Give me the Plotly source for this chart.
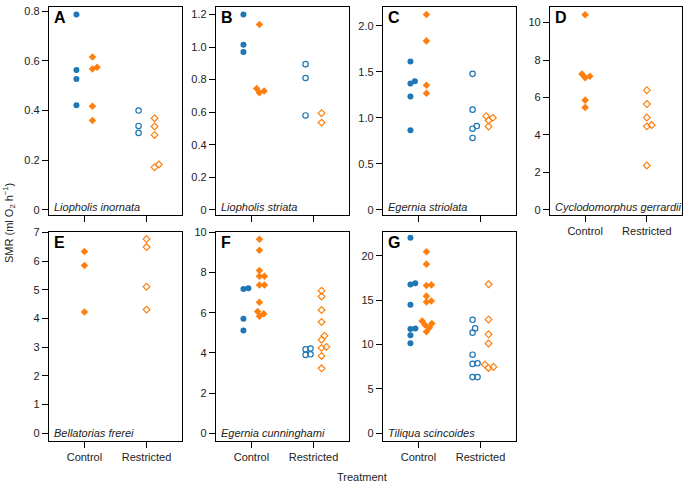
import math
import plotly.graph_objects as go

# ---------------- data (SMR, ml O2 h-1) ----------------
treatments = ["Control", "Restricted"]

A_blue_control = [0.787, 0.563, 0.527, 0.421]
A_orange_control = [0.616, 0.574, 0.567, 0.417, 0.360]
A_blue_restricted = [0.400, 0.338, 0.310]
A_orange_restricted = [0.369, 0.336, 0.302, 0.183, 0.172]

B_blue_control = [1.200, 1.014, 0.970]
B_orange_control = [1.139, 0.745, 0.730, 0.720]
B_blue_restricted = [0.895, 0.810, 0.580]
B_orange_restricted = [0.594, 0.536]

C_blue_control = [1.611, 1.397, 1.372, 1.232, 0.865]
C_orange_control = [2.122, 1.836, 1.354, 1.268]
C_blue_restricted = [1.478, 1.089, 0.911, 0.882, 0.782]
C_orange_restricted = [1.018, 1.000, 0.971, 0.907]

D_orange_control = [10.42, 7.25, 7.14, 7.05, 5.86, 5.47]
D_orange_restricted = [6.39, 5.65, 4.93, 4.53, 4.46, 2.37]

E_orange_control = [6.34, 5.85, 4.23]
E_orange_restricted = [6.77, 6.49, 5.11, 4.31]

F_blue_control = [7.22, 7.19, 5.70, 5.12]
F_orange_control = [9.66, 9.12, 8.11, 7.82, 7.82, 7.38, 7.38, 6.52, 6.06, 5.95, 5.83]
F_blue_restricted = [4.22, 4.18, 3.93, 3.90]
F_orange_restricted = [7.10, 6.81, 6.14, 5.54, 4.86, 4.66, 4.30, 4.25, 3.85, 3.23]

G_blue_control = [22.04, 16.91, 16.77, 14.50, 11.82, 11.75, 11.04, 10.15]
G_orange_control = [20.48, 19.07, 16.73, 16.65, 15.46, 14.91, 14.80, 12.64, 12.38, 12.19, 11.90, 11.45]
G_blue_restricted = [12.79, 11.82, 11.34, 8.85, 7.88, 7.81, 6.32, 6.32]
G_orange_restricted = [16.80, 12.83, 11.15, 10.11, 7.73, 7.47, 7.36]

panel_letters = ["A", "B", "C", "D", "E", "F", "G"]
species = ["Liopholis inornata", "Liopholis striata", "Egernia striolata",
           "Cyclodomorphus gerrardii", "Bellatorias frerei",
           "Egernia cunninghami", "Tiliqua scincoides"]
panel_series = [
    (A_blue_control, A_orange_control, A_blue_restricted, A_orange_restricted),
    (B_blue_control, B_orange_control, B_blue_restricted, B_orange_restricted),
    (C_blue_control, C_orange_control, C_blue_restricted, C_orange_restricted),
    (None, D_orange_control, None, D_orange_restricted),
    (None, E_orange_control, None, E_orange_restricted),
    (F_blue_control, F_orange_control, F_blue_restricted, F_orange_restricted),
    (G_blue_control, G_orange_control, G_blue_restricted, G_orange_restricted),
]
y_tickvals = [
    [0, 0.2, 0.4, 0.6, 0.8],
    [0, 0.2, 0.4, 0.6, 0.8, 1.0, 1.2],
    [0, 0.5, 1.0, 1.5, 2.0],
    [0, 2, 4, 6, 8, 10],
    [0, 1, 2, 3, 4, 5, 6, 7],
    [0, 2, 4, 6, 8, 10],
    [0, 5, 10, 15, 20],
]
y_ticktext = [
    ["0", "0.2", "0.4", "0.6", "0.8"],
    ["0", "0.2", "0.4", "0.6", "0.8", "1.0", "1.2"],
    ["0", "0.5", "1.0", "1.5", "2.0"],
    ["0", "2", "4", "6", "8", "10"],
    ["0", "1", "2", "3", "4", "5", "6", "7"],
    ["0", "2", "4", "6", "8", "10"],
    ["0", "5", "10", "15", "20"],
]
y_ranges = [
    [-0.019, 0.817], [-0.029, 1.246], [-0.051, 2.204], [-0.25, 10.83],
    [-0.27, 7.02], [-0.39, 10.03], [-0.89, 22.71],
]

# ---------------- layout geometry ----------------
W, H = 684, 485
ML, MR, MT, MB = 49, 2, 1, 44
PW, PH = W - ML - MR, H - MT - MB
col_px = [(49, 182), (216, 349), (383, 516), (550, 682)]
row_px = [(1, 211.5), (229, 441)]
panel_pos = [(0, 0), (0, 1), (0, 2), (0, 3), (1, 0), (1, 1), (1, 2)]
show_xlabels = [False, False, False, True, True, True, True]
x_range = [-0.57, 1.57]

BLUE = "#1f77b4"
ORANGE = "#ff7f0e"
FONT = "Arial, Liberation Sans, sans-serif"


def swarm(vals, ypx, d=5.0):
    n = len(vals)
    order = sorted(range(n), key=lambda i: vals[i])
    placed = []
    out = [0.0] * n
    for i in order:
        y = vals[i] * ypx
        cands = [0.0]
        for (px, py) in placed:
            dy = abs(y - py)
            if dy < d:
                dx = math.sqrt(d * d - dy * dy)
                cands += [px + dx + 1e-6, px - dx - 1e-6]
        valid = [c for c in cands
                 if all((c - px) ** 2 + (y - py) ** 2 >= d * d - 1e-6 for px, py in placed)]
        best = min(valid, key=lambda c: (round(abs(c), 6), -c))
        placed.append((best, y))
        out[i] = best
    return out


fig = go.Figure()
annotations = []
layout = {}

for k in range(7):
    r, c = panel_pos[k]
    x0, x1 = col_px[c]
    y0, y1 = row_px[r]
    xdom = [(x0 - ML) / PW, (x1 - ML) / PW]
    ydom = [(MT + PH - y1) / PH, (MT + PH - y0) / PH]
    ax = "" if k == 0 else str(k + 1)
    xpx = (x1 - x0) / (x_range[1] - x_range[0])
    ypx = (y1 - y0) / (y_ranges[k][1] - y_ranges[k][0])

    bc, oc, br, orr = panel_series[k]
    both = bc is not None
    groups = [
        (bc, 0, -8 if both else 0, "circle", BLUE),
        (oc, 0, 8 if both else 0, "diamond", ORANGE),
        (br, 1, -8 if both else 0, "circle-open", BLUE),
        (orr, 1, 8 if both else 0, "diamond-open", ORANGE),
    ]
    for vals, tx, base, sym, col in groups:
        if vals is None:
            continue
        offs = swarm(vals, ypx)
        xs = [tx + (base + o) / xpx for o in offs]
        is_open = sym.endswith("open")
        is_dia = sym.startswith("diamond")
        fig.add_trace(go.Scatter(
            x=xs, y=vals, mode="markers", xaxis="x" + ax, yaxis="y" + ax,
            showlegend=False, hoverinfo="y",
            marker=dict(symbol=sym, color=col,
                        size=(5.2 if is_dia else 5.4) if is_open else (5.8 if is_dia else 6),
                        line=dict(color=col, width=1.2 if is_open else 0)),
        ))

    common = dict(showline=True, linecolor="black", linewidth=1.3, mirror=True,
                  ticks="outside", ticklen=6, tickwidth=1, tickcolor="black",
                  showgrid=False, zeroline=False,
                  tickfont=dict(family=FONT, size=11, color="#222222"))
    layout["xaxis" + ax] = dict(common, domain=xdom, range=x_range, anchor="y" + ax,
                                tickvals=[0, 1], ticktext=treatments,
                                showticklabels=show_xlabels[k], fixedrange=True)
    layout["yaxis" + ax] = dict(common, domain=ydom, range=y_ranges[k], anchor="x" + ax,
                                tickvals=y_tickvals[k], ticktext=y_ticktext[k],
                                fixedrange=True)

    annotations.append(dict(
        text="<b>%s</b>" % panel_letters[k], xref="x%s domain" % ax, yref="y%s domain" % ax,
        x=0.025, y=1.0, xanchor="left", yanchor="top", showarrow=False,
        font=dict(family=FONT, size=16, color="black")))
    annotations.append(dict(
        text="<i>%s</i>" % species[k], xref="x%s domain" % ax, yref="y%s domain" % ax,
        x=0.02, y=0.0, xanchor="left", yanchor="bottom", showarrow=False,
        font=dict(family=FONT, size=11, color="#222222")))

annotations.append(dict(
    text="Treatment", xref="paper", yref="paper",
    x=(362 - ML) / PW, y=(MT + PH - 478) / PH, xanchor="center", yanchor="middle",
    showarrow=False, font=dict(family=FONT, size=11, color="#222222")))
annotations.append(dict(
    text="SMR (ml O<sub>2</sub> h<sup>\u22121</sup>)", xref="paper", yref="paper",
    x=(9 - ML) / PW, y=(MT + PH - 220) / PH, xanchor="center", yanchor="middle",
    textangle=-90, showarrow=False, font=dict(family=FONT, size=11, color="#222222")))

fig.update_layout(
    width=W, height=H, margin=dict(l=ML, r=MR, t=MT, b=MB, pad=0),
    paper_bgcolor="white", plot_bgcolor="white",
    annotations=annotations, showlegend=False, **layout)

fig.write_html("out.html", config={"displayModeBar": False})
